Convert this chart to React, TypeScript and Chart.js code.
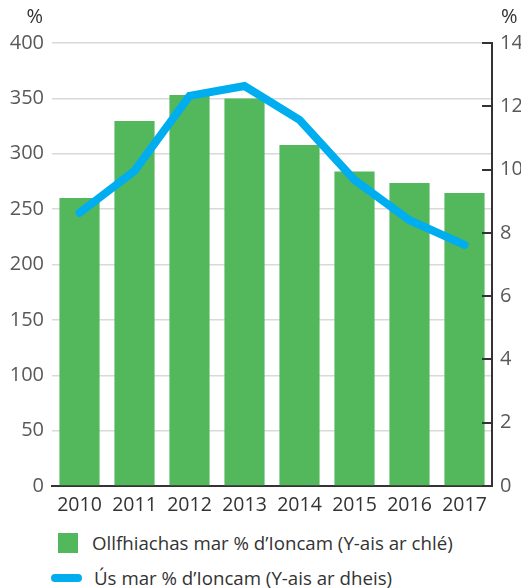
import React, { useEffect, useRef } from "react";
import { Chart, registerables } from "chart.js";

Chart.register(...registerables);

const years = ["2010", "2011", "2012", "2013", "2014", "2015", "2016", "2017"];
const debtPct = [260, 329.5, 353, 350, 308, 284, 273.5, 264.5];
const interestPct = [8.63, 9.96, 12.33, 12.64, 11.57, 9.67, 8.4, 7.62];
const leftTicks = { min: 0, max: 400, step: 50 };
const rightTicks = { min: 0, max: 14, step: 2 };
const barLabel = "Ollfhiachas mar % d\u2019Ioncam (Y-ais ar chl\u00e9)";
const lineLabel = "\u00das mar % d\u2019Ioncam (Y-ais ar dheis)";

const GREEN = "#53b75c";
const BLUE = "#00aeef";
const FONT = "'Open Sans', 'Noto Sans', sans-serif";

const extrasPlugin = {
  id: "extras",
  afterDraw(chart: any) {
    const ctx = chart.ctx;
    const y = chart.scales.y;
    const y2 = chart.scales.y2;
    ctx.save();
    ctx.strokeStyle = "#333333";
    ctx.lineWidth = 2;
    for (let v = rightTicks.min; v <= rightTicks.max; v += rightTicks.step) {
      const py = Math.round(y2.getPixelForValue(v));
      ctx.beginPath();
      ctx.moveTo(y2.left - 10, py);
      ctx.lineTo(y2.left, py);
      ctx.stroke();
    }
    ctx.fillStyle = "#333333";
    ctx.font = `20px ${FONT}`;
    ctx.textBaseline = "middle";
    ctx.textAlign = "right";
    ctx.fillText("%", y.right - 9, 17);
    ctx.textAlign = "left";
    ctx.fillText("%", y2.left + 9, 17);
    ctx.restore();
  },
};

export default function App() {
  const ref = useRef<HTMLCanvasElement | null>(null);
  useEffect(() => {
    if (!ref.current) return;
    const chart = new Chart(ref.current, {
      type: "bar",
      data: {
        labels: years,
        datasets: [
          {
            type: "line",
            label: lineLabel,
            data: interestPct,
            yAxisID: "y2",
            borderColor: BLUE,
            backgroundColor: BLUE,
            borderWidth: 8,
            pointRadius: 0,
            borderCapStyle: "round",
            borderJoinStyle: "miter",
            tension: 0,
            order: 0,
          } as any,
          {
            type: "bar",
            label: barLabel,
            data: debtPct,
            yAxisID: "y",
            backgroundColor: GREEN,
            barPercentage: 0.73,
            categoryPercentage: 1,
            order: 1,
          },
        ],
      },
      options: {
        animation: false,
        responsive: false,
        layout: { padding: { top: 43, left: 0, right: 0, bottom: 0 } },
        plugins: { legend: { display: false }, tooltip: { enabled: false } },
        scales: {
          x: {
            grid: { display: false },
            border: { color: "#333333", width: 2 },
            ticks: { color: "#333333", font: { family: FONT, size: 19.5 }, padding: 0 },
            afterFit: (s: any) => { s.height = 29; },
          },
          y: {
            position: "left",
            min: leftTicks.min,
            max: leftTicks.max,
            ticks: {
              stepSize: leftTicks.step,
              color: "#595959",
              font: { family: FONT, size: 20 },
              padding: 8,
            },
            grid: { color: "#d9d9d9", lineWidth: 1.5, tickLength: 0 },
            border: { display: false },
            afterFit: (s: any) => { s.width = 52; },
          },
          y2: {
            position: "right",
            min: rightTicks.min,
            max: rightTicks.max,
            ticks: {
              stepSize: rightTicks.step,
              color: "#595959",
              font: { family: FONT, size: 20 },
              padding: 8,
            },
            grid: { drawOnChartArea: false, tickLength: 0 },
            border: { color: "#333333", width: 2 },
            afterFit: (s: any) => { s.width = 29; },
          },
        },
      },
      plugins: [extrasPlugin],
    });
    return () => chart.destroy();
  }, []);

  return (
    <div style={{ position: "absolute", left: 0, top: 0, width: 521, height: 588, background: "#fff", fontFamily: FONT }}>
      <canvas ref={ref} width={521} height={515} style={{ display: "block" }} />
      <div style={{ position: "absolute", left: 58, top: 533, width: 20, height: 20, background: GREEN }} />
      <div style={{ position: "absolute", left: 92, top: 530, fontSize: 18.7, lineHeight: "26px", color: "#333", whiteSpace: "nowrap" }}>
        {barLabel}
      </div>
      <div style={{ position: "absolute", left: 51, top: 574, width: 31, height: 8, borderRadius: 4, background: BLUE }} />
      <div style={{ position: "absolute", left: 94, top: 565, fontSize: 18.7, lineHeight: "26px", color: "#333", whiteSpace: "nowrap" }}>
        {lineLabel}
      </div>
    </div>
  );
}
